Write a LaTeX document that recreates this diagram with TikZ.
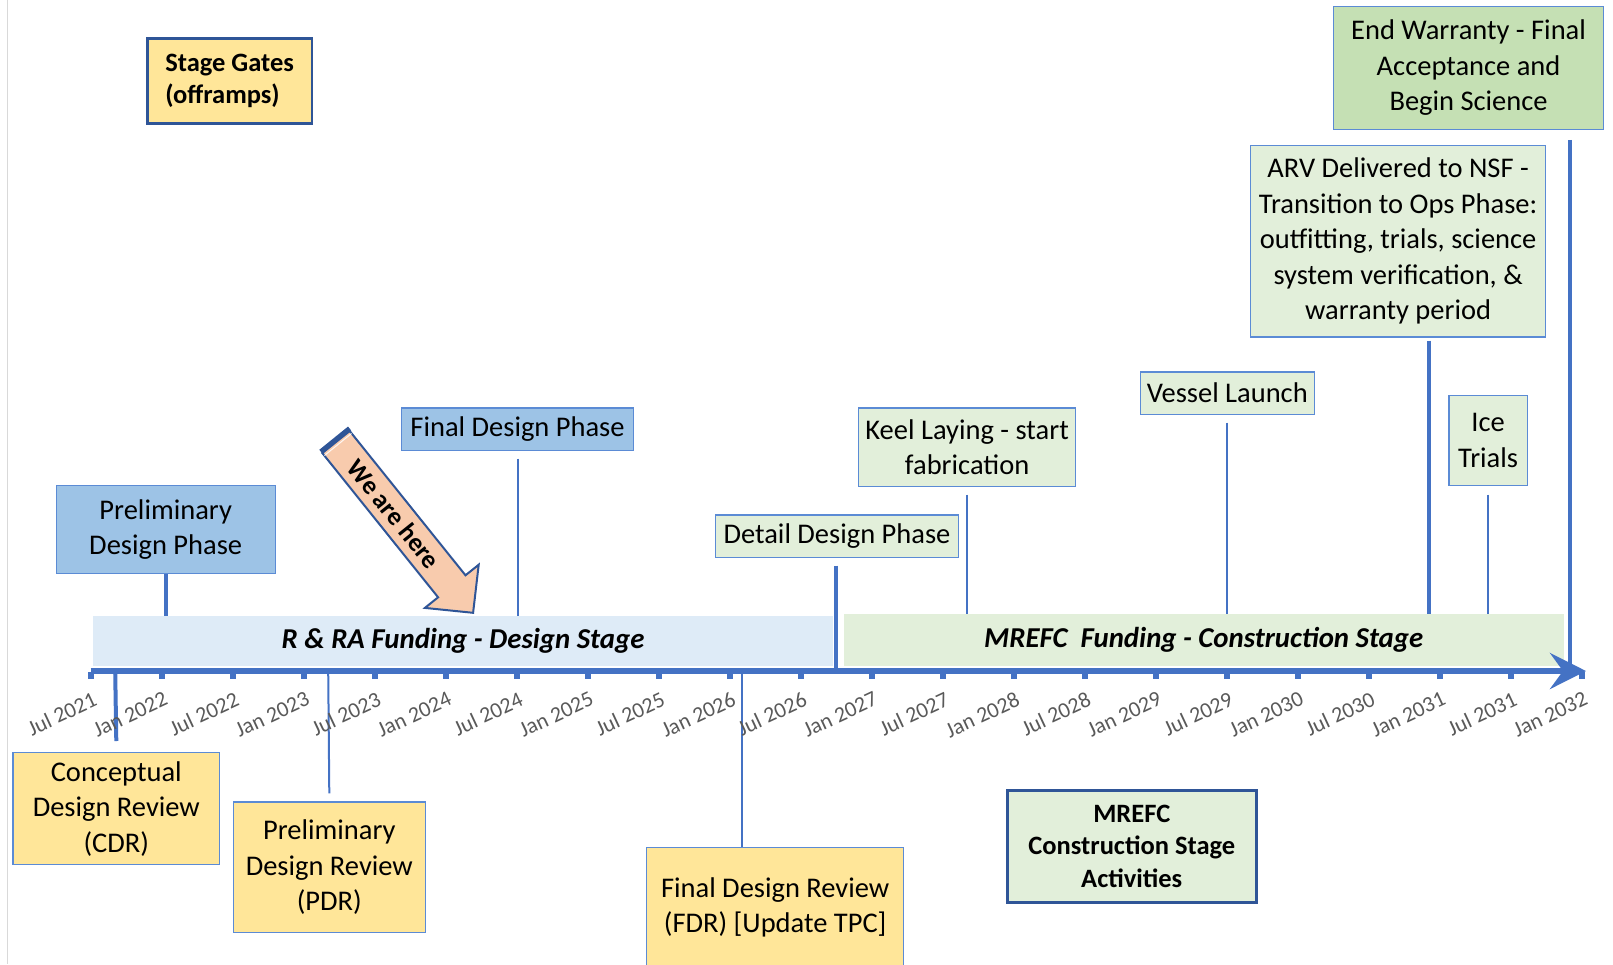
\documentclass[tikz,border=0pt]{standalone}
\usepackage{fontspec}
\setmainfont{Carlito}
\usetikzlibrary{arrows.meta}
\definecolor{axblue}{HTML}{4472C4}
\definecolor{dkblue}{HTML}{2F5597}
\definecolor{boxline}{HTML}{5B8BD5}
\definecolor{ylw}{HTML}{FFE699}
\definecolor{lblue}{HTML}{9DC3E6}
\definecolor{paleblue}{HTML}{DEEBF7}
\definecolor{lgreen}{HTML}{E2EFDA}
\definecolor{mgreen}{HTML}{C5E0B4}
\definecolor{peach}{HTML}{F8CBAD}
\definecolor{lblgray}{HTML}{595959}
\tikzset{
  box/.style={draw=boxline, line width=1.2pt, inner sep=0pt, align=center,
    font=\fontsize{28.5}{35.5}\selectfont, anchor=north west},
  ybox/.style={box, fill=ylw},
  bbox/.style={box, fill=lblue},
  gbox/.style={box, fill=lgreen},
  keybox/.style={box, draw=dkblue, line width=2.5pt, font=\fontsize{26.5}{32.5}\selectfont\bfseries},
  band/.style={inner sep=0pt, anchor=north west, font=\fontsize{28.8}{34}\selectfont\bfseries\itshape},
  thickc/.style={draw=axblue, line width=4pt},
  thinc/.style={draw=axblue, line width=2pt},
  axisline/.style={draw=axblue, line width=5.5pt, -{Stealth[length=36pt,width=36pt,inset=13pt]}},
  tickmark/.style={draw=axblue, line width=6pt},
  tlabel/.style={text=lblgray, font=\fontsize{22}{26}\selectfont, rotate=25, anchor=north east, inner sep=0pt},
}
\begin{document}
\begin{tikzpicture}[x=1pt,y=-1pt]
\useasboundingbox (0,0) rectangle (1613,964);
\draw[line width=1.5pt, color=black!15] (7.5,0) -- (7.5,964);

% bands
\node[band, fill=paleblue, minimum width=740.6pt, minimum height=49.4pt] (rra) at (92.6,616.2) {R \& RA Funding - Design Stage};
\node[band, fill=lgreen, minimum width=720.1pt, minimum height=51.5pt] (mref) at (843.5,614.1) {MREFC\ \ Funding - Construction Stage};

% event coordinates on the axis
\coordinate (ax0) at (90.5,671);
\coordinate (ax1) at (1586,671);
\coordinate (ecdr) at (115.2,671);
\coordinate (epdr) at (328.2,671);
\coordinate (efdr) at (741.7,671);
\coordinate (eddp) at (836.3,671);
\coordinate (earv) at (1428.9,671);
\coordinate (eend) at (1569.8,669);

% boxes above
\node[keybox, fill=ylw, align=left, minimum width=164.7pt, minimum height=85.4pt] (sg) at (146,37) {Stage Gates\\(offramps)};
\node[bbox, minimum width=219.2pt, minimum height=88.5pt] (pdp) at (55.5,484.5) {Preliminary\\Design Phase};
\node[bbox, minimum width=231.5pt, minimum height=42.1pt] (fdp) at (401.2,407.4) {Final Design Phase};
\node[gbox, minimum width=242.7pt, minimum height=42.1pt] (ddp) at (715,514.4) {Detail Design Phase};
\node[gbox, minimum width=217pt, minimum height=78.1pt] (keel) at (858,407.4) {Keel Laying - start\\fabrication};
\node[gbox, minimum width=173.8pt, minimum height=42.1pt] (vessel) at (1139.8,371.4) {Vessel Launch};
\node[gbox, minimum width=295.2pt, minimum height=191.4pt] (arv) at (1249.9,145) {ARV Delivered to NSF -\\Transition to Ops Phase:\\outfitting, trials, science\\system verification, \&\\warranty period};
\node[gbox, minimum width=78.2pt, minimum height=89.5pt] (ice) at (1448.4,395) {Ice\\Trials};
\node[box, fill=mgreen, minimum width=269.5pt, minimum height=122.4pt] (endw) at (1333.2,6.2) {End Warranty - Final\\Acceptance and\\Begin Science};

% boxes below
\node[ybox, minimum width=206.8pt, minimum height=112.1pt] (cdr) at (12.3,752) {Conceptual\\Design Review\\(CDR)};
\node[ybox, minimum width=192.4pt, minimum height=130.6pt] (pdr) at (232.5,801.4) {Preliminary\\Design Review\\(PDR)};
\node[ybox, minimum width=257.2pt, minimum height=120.4pt] (fdr) at (646,846.6) {Final Design Review\\(FDR) [Update TPC]};
\node[keybox, fill=lgreen, minimum width=249pt, minimum height=112pt] (act) at (1006,789) {MREFC\\Construction Stage\\Activities};

% connectors
\draw[thickc] (pdp.south) -- (pdp.south |- rra.north);
\draw[thinc] ([yshift=-8pt]fdp.south) -- (fdp.south |- rra.north);
\draw[thickc] ([yshift=-8pt]ddp.south -| eddp) -- (eddp);
\draw[thinc] ([yshift=-8pt]keel.south) -- (keel.south |- mref.north);
\draw[thinc] ([yshift=-8pt]vessel.south) -- (vessel.south |- mref.north);
\draw[thickc] ([yshift=-3pt]arv.south -| earv) -- (earv |- mref.north);
\draw[thinc] ([yshift=-9pt]ice.south) -- (ice.south |- mref.north);
\draw[thickc] ([yshift=-10pt]endw.south -| eend) -- (eend);
\draw[thickc] (ecdr) -- ([yshift=11pt]cdr.north);
\draw[thinc] (epdr) -- ([yshift=8pt]pdr.north);
\draw[thinc] (efdr) -- (efdr |- fdr.north);

% axis
\draw[axisline] (ax0) -- (ax1);
\foreach \k in {0,...,21} \draw[tickmark] ({91+71*\k},672) -- ++(0,6.5);
\foreach \k/\t in {0/Jul 2021,1/Jan 2022,2/Jul 2022,3/Jan 2023,4/Jul 2023,5/Jan 2024,6/Jul 2024,7/Jan 2025,8/Jul 2025,9/Jan 2026,10/Jul 2026,11/Jan 2027,12/Jul 2027,13/Jan 2028,14/Jul 2028,15/Jan 2029,16/Jul 2029,17/Jan 2030,18/Jul 2030,19/Jan 2031,20/Jul 2031,21/Jan 2032}
  \node[tlabel] at ({92+71*\k},691) {\t};

% "We are here" arrow
\filldraw[fill=peach, draw=dkblue, line width=2pt, line join=miter]
  (349.7,431.0) -- (465.5,575.3) -- (478.7,564.7) -- (473.1,612.8) -- (424.9,607.9) -- (438.1,597.3) -- (322.3,453.0) -- cycle;
\draw[dkblue, line width=5pt] (320.9,451.7) -- (349.6,428.5);
\draw[white!85!peach, line width=1pt] (324.5,455.5) -- (351.5,433.5);
\node[rotate=-51.25, inner sep=0pt, font=\fontsize{26}{30}\selectfont\bfseries] (here) at (394,514) {We are here};
\end{tikzpicture}
\end{document}
